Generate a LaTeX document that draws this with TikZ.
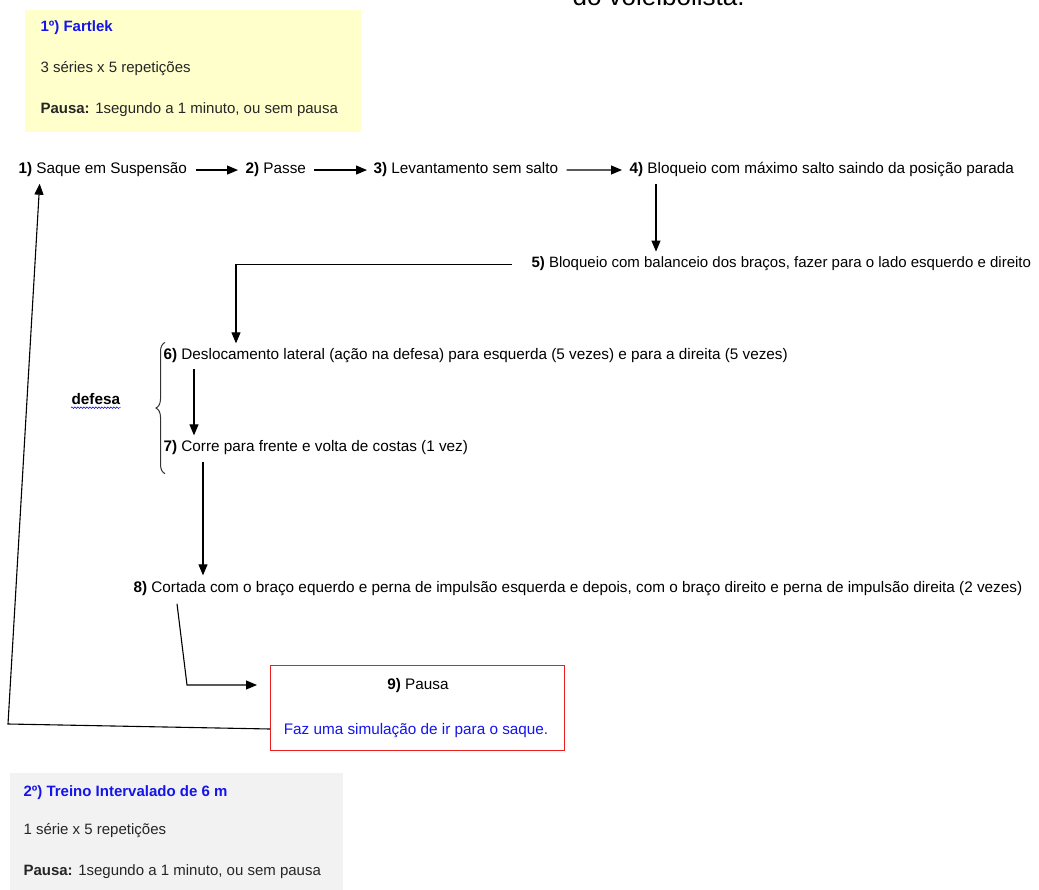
\documentclass[tikz,border=0pt]{standalone}
\usepackage{fontspec}
\setmainfont{Liberation Sans}
\usetikzlibrary{arrows.meta,decorations.pathreplacing,decorations.pathmorphing}
\definecolor{amarelo}{RGB}{255,255,204}
\definecolor{cinza}{RGB}{242,242,242}
\definecolor{azul}{RGB}{20,20,235}
\definecolor{vermelho}{RGB}{235,30,30}

\begin{document}
\begin{tikzpicture}[x=1pt,y=-1pt,->,>={Triangle[length=11pt,width=9pt]},line width=1.1pt,
  passo/.style={inner sep=0pt, anchor=base west, font=\fontsize{15.3}{17}\selectfont},
  caixa/.style={inner sep=0pt, anchor=base west, font=\fontsize{15}{17}\selectfont, text=black!85},
  titulo/.style={caixa, text=azul, font=\fontsize{15}{17}\selectfont\bfseries}]
  \path[use as bounding box, clip] (0,0) rectangle (1039,890);

  \node (cabeca) [inner sep=0pt, anchor=base west, font=\fontsize{26}{28}\selectfont] at (572,6) {do voleibolista.};

  \fill[amarelo] (25,10) rectangle (361,132);
  \node (fartlek) [titulo] at (40,32) {1º) Fartlek};
  \node (series1) [caixa] at (40,73) {3 séries x 5 repetições};
  \node (pausa1) [caixa] at (40,114) {\textbf{Pausa:} 1segundo a 1 minuto, ou sem pausa};

  \node (p1) [passo] at (18,174) {\textbf{1)} Saque em Suspensão};
  \node (p2) [passo] at (245,174) {\textbf{2)} Passe};
  \node (p3) [passo] at (373,174) {\textbf{3)} Levantamento sem salto};
  \node (p4) [passo] at (629,174) {\textbf{4)} Bloqueio com máximo salto saindo da posição parada};
  \node (p5) [passo, font=\fontsize{15}{17}\selectfont] at (531,268) {\textbf{5)} Bloqueio com balanceio dos braços, fazer para o lado esquerdo e direito};
  \node (p6) [passo] at (163,360) {\textbf{6)} Deslocamento lateral (ação na defesa) para esquerda (5 vezes) e para a direita (5 vezes)};
  \node (p7) [passo] at (163,452) {\textbf{7)} Corre para frente e volta de costas (1 vez)};
  \node (p8) [passo] at (133,592) {\textbf{8)} Cortada com o braço equerdo e perna de impulsão esquerda e depois, com o braço direito e perna de impulsão direita (2 vezes)};
  \node (defesa) [passo] at (71,405) {\textbf{defesa}};

  \node (p9) [draw=vermelho, line width=1pt, inner sep=0pt, anchor=north west,
              minimum width=294pt, minimum height=85pt] at (270,665) {};
  \node (pausa9) [passo, anchor=base] at (418,689) {\textbf{9)} Pausa};
  \node (faz) [passo, anchor=base, text=azul] at (416,734) {Faz uma simulação de ir para o saque.};

  \fill[cinza] (10,773) rectangle (343,890);
  \node (treino) [titulo] at (23,796) {2º) Treino Intervalado de 6 m};
  \node (series2) [caixa] at (23,834) {1 série x 5 repetições};
  \node (pausa2) [caixa] at (23,875) {\textbf{Pausa:} 1segundo a 1 minuto, ou sem pausa};

  \coordinate (k1) at (40,0);
  \coordinate (k4) at (656,0);
  \coordinate (k5) at (236,0);
  \coordinate (k6) at (194,0);
  \coordinate (k7) at (203,0);
  \coordinate (b8) at (187,685);
  \coordinate (b9) at (8,724);

  \draw[shorten <=8pt, shorten >=7pt] (p1.east) -- (p2.west);
  \draw[shorten <=8pt, shorten >=6pt] (p2.east) -- (p3.west);
  \draw[shorten <=8pt, shorten >=7pt] (p3.east) -- (p4.west);
  \draw[shorten <=6pt, shorten >=5pt] (p4.south -| k4) -- (p5.north -| k4);
  \draw[shorten >=5pt] ([xshift=-19pt]p5.west) -| (p6.north -| k5);
  \draw[shorten <=5pt, shorten >=5pt] (p6.south -| k6) -- (p7.north -| k6);
  \draw[shorten <=6pt, shorten >=5pt] (p7.south -| k7) -- (p8.north -| k7);
  \draw[shorten >=13pt] ([xshift=44pt,yshift=-8pt]p8.south west) -- (b8) -- (p9.west |- b8);
  \draw[shorten >=6pt] ([yshift=-21pt]p9.west) -- (b9) -- (p1.south -| k1);

  \draw[-, line width=1pt, black!80, decorate, decoration={brace, amplitude=9pt}]
    ([xshift=2pt,yshift=-18pt]p7.south west) -- ([xshift=2pt,yshift=6pt]p6.north west);
  \draw[-, line width=0.6pt, azul, decorate, decoration={snake, amplitude=0.8pt, segment length=3pt}]
    ([yshift=-2pt]defesa.south west) -- ([yshift=-2pt]defesa.south east);
\end{tikzpicture}
\end{document}
